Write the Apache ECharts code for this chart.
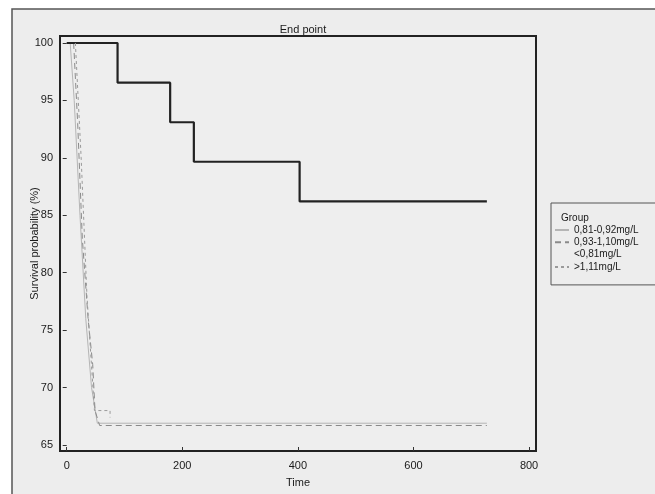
<!DOCTYPE html>
<html>
<head>
<meta charset="utf-8">
<title>End point</title>
<script src="https://cdn.jsdelivr.net/npm/echarts@6/dist/echarts.min.js"></script>
<style>
  html, body { margin: 0; padding: 0; background: #fff; }
  #main { width: 655px; height: 494px; }
</style>
</head>
<body>
<div id="main"></div>
<script>
// tick labels
var xTicks = [0, 200, 400, 600, 800];
var yTicks = [65, 70, 75, 80, 85, 90, 95, 100];

// groups (legend order)
var groupNames = ['0,81-0,92mg/L', '0,93-1,10mg/L', '<0,81mg/L', '>1,11mg/L'];

// Kaplan-Meier curves, [time, survival %]
var g081_092 = [[6, 100], [13, 95], [23, 85], [33, 76], [43, 70], [53, 66.9], [727, 66.9]];
var g093_110 = [[12, 100], [19, 93], [27, 83], [37, 76], [45, 72], [49, 68], [57, 66.7], [727, 66.7]];
var gLt081 = [[0, 100], [88, 96.55], [179, 93.1], [220, 89.66], [403, 86.21], [727, 86.21]];
var gGt111 = [[15, 100], [25, 90], [35, 78], [48, 68], [61, 68], [75, 68], [75, 67.4]];

var myChart = echarts.init(document.getElementById('main'));

var txt = { color: '#1a1a1a', fontFamily: 'Liberation Sans, Arial, sans-serif', fontSize: 11 };

option = {
    backgroundColor: '#fff',
    animation: false,
    graphic: [
        {   // outer figure frame
            type: 'rect',
            shape: { x: 12, y: 9, width: 700, height: 520 },
            style: { fill: '#ededed', stroke: '#555', lineWidth: 1.5 },
            z: -10
        }
    ],
    title: [
        { text: 'End point', left: 298, top: 19, textAlign: 'center',
          textStyle: { color: '#1a1a1a', fontSize: 11, fontWeight: 'normal', fontFamily: 'Liberation Sans, Arial, sans-serif' } },
        { text: 'Group', left: 556, top: 208,
          textStyle: { color: '#1a1a1a', fontSize: 10, fontWeight: 'normal', fontFamily: 'Liberation Sans, Arial, sans-serif' } }
    ],
    legend: {
        orient: 'vertical',
        left: 551,
        top: 203,
        padding: [22, 30, 13, 3],
        borderColor: '#555',
        borderWidth: 1,
        itemWidth: 14,
        itemHeight: 10,
        itemGap: 2.3,
        itemStyle: { color: 'transparent', borderWidth: 0 },
        textStyle: { color: '#1a1a1a', fontSize: 10, fontFamily: 'Liberation Sans, Arial, sans-serif' },
        data: [
            { name: groupNames[0] },
            { name: groupNames[1] },
            { name: groupNames[2], icon: 'none' },
            { name: groupNames[3] }
        ]
    },
    grid: {
        left: 60,
        top: 36,
        width: 476,
        height: 415,
        show: true,
        backgroundColor: '#eeeeee',
        borderColor: '#222',
        borderWidth: 2
    },
    xAxis: {
        type: 'value',
        min: -11.6,
        max: 812,
        name: 'Time',
        nameLocation: 'middle',
        nameGap: 26,
        nameTextStyle: txt,
        splitLine: { show: false },
        axisLine: { show: false },
        axisTick: { show: true, inside: true, length: 4, lineStyle: { color: '#333' }, customValues: xTicks },
        axisLabel: Object.assign({ margin: 9, customValues: xTicks }, txt)
    },
    yAxis: {
        type: 'value',
        min: 64.48,
        max: 100.61,
        name: 'Survival probability (%)',
        nameLocation: 'middle',
        nameGap: 20,
        nameMoveOverlap: false,
        nameTextStyle: txt,
        splitLine: { show: false },
        axisLine: { show: false },
        axisTick: { show: true, length: 4, lineStyle: { color: '#333' }, customValues: yTicks },
        axisLabel: Object.assign({ margin: 7, customValues: yTicks }, txt)
    },
    series: [
        {
            name: groupNames[0], type: 'line', data: g081_092, symbol: 'none',
            lineStyle: { color: '#b5b5b5', width: 1 }, itemStyle: { color: '#b5b5b5' }
        },
        {
            name: groupNames[1], type: 'line', data: g093_110, symbol: 'none',
            lineStyle: { color: '#8a8a8a', width: 1, type: [6, 4] }, itemStyle: { color: '#8a8a8a' }
        },
        {
            name: groupNames[2], type: 'line', data: gLt081, symbol: 'none', step: 'end',
            lineStyle: { color: '#222', width: 2.2 }, itemStyle: { color: '#222' }
        },
        {
            name: groupNames[3], type: 'line', data: gGt111, symbol: 'none',
            lineStyle: { color: '#9a9a9a', width: 1, type: [3, 3] }, itemStyle: { color: '#9a9a9a' }
        }
    ]
};
myChart.setOption(option);
</script>
</body>
</html>
